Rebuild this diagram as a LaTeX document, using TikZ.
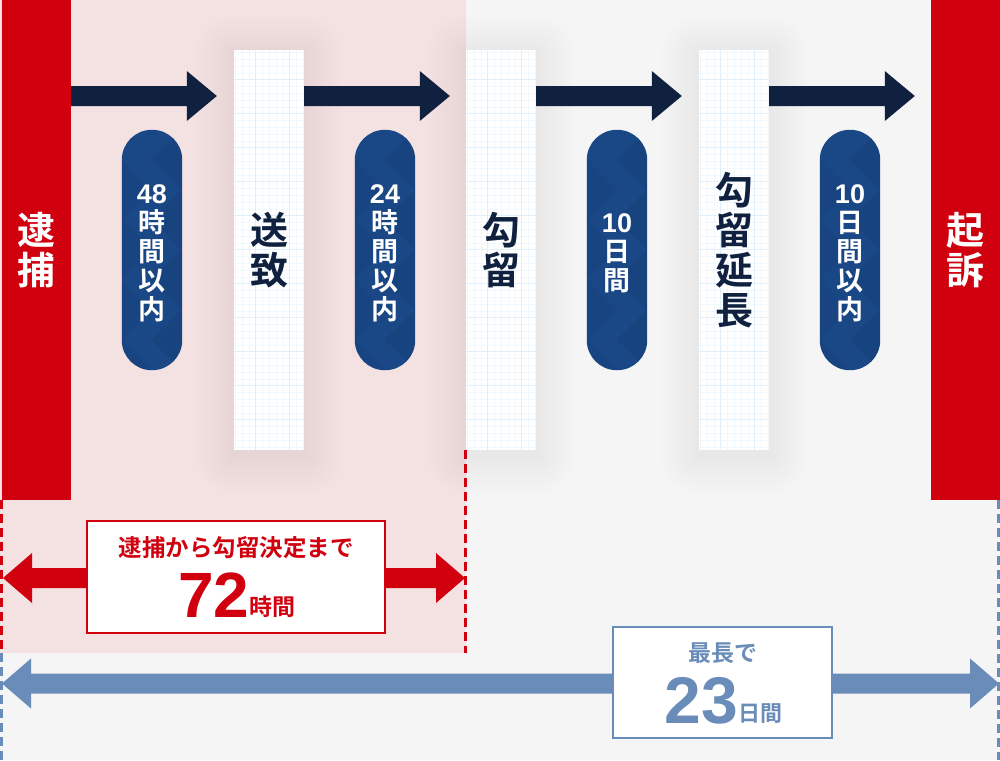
\documentclass[tikz,border=0pt]{standalone}
\usepackage{fontspec}
\newfontfamily\jp{Noto Sans CJK JP}[BoldFont={Noto Sans CJK JP Bold}]
\newfontfamily\num{Liberation Sans}
\usetikzlibrary{calc}
\definecolor{cred}{HTML}{D0000E}
\definecolor{cnavy}{HTML}{0F213F}
\definecolor{cpill}{HTML}{1A4785}
\definecolor{cpilldark}{HTML}{0E3166}
\definecolor{cblue}{HTML}{6A8CB9}
\definecolor{cpink}{HTML}{F4E1E2}
\definecolor{cgray}{HTML}{F5F5F5}
\definecolor{gminor}{HTML}{F1F8FD}
\definecolor{gmajor}{HTML}{E0EFF9}
\pgfdeclarelayer{bg}
\pgfdeclarelayer{shadow}
\pgfdeclarelayer{deco}
\pgfsetlayers{bg,shadow,deco,main}
\newcommand\softshadow[1]{%
  \foreach \rr in {3,6,...,39}
    \fill[black,opacity=0.0045,rounded corners=\rr pt]
      ($(#1.north west)+(-\rr,-\rr+5)$) rectangle ($(#1.south east)+(\rr,\rr+5)$);}
\newcommand\gridfill[1]{%
  \begin{scope}[shift={(#1.north west)}]
    \fill[white] (0,0) rectangle (70,400);
    \clip (0,0) rectangle (70,400);
    \foreach \k in {0,...,15} \draw[gminor,line width=0.8pt] (-12+\k*6.8,0) -- ++(0,400);
    \foreach \k in {0,...,60} \draw[gminor,line width=0.8pt] (0,-4+\k*6.8) -- ++(70,0);
    \foreach \k in {0,1} \draw[gmajor,line width=1pt] (22+\k*34,0) -- ++(0,400);
    \foreach \k in {0,...,11} \draw[gmajor,line width=1pt] (0,30+\k*34) -- ++(70,0);
  \end{scope}}
\newcommand\pillfill[1]{%
  \fill[cpill,rounded corners=30pt] (#1.north west) rectangle (#1.south east);
  \begin{scope}
    \clip[rounded corners=30pt] (#1.north west) rectangle (#1.south east);
    \begin{scope}[shift={(#1.north west)}]
      \foreach \k in {0,2,...,8}
        \fill[cpilldark,opacity=0.18] (60,\k*30) -- (30,\k*30+30) -- (60,\k*30+60) -- cycle;
      \foreach \k in {1,3,...,7}
        \fill[cpilldark,opacity=0.12] (0,\k*30) -- (30,\k*30+30) -- (0,\k*30+60) -- cycle;
    \end{scope}
  \end{scope}}
\newcommand\fatarrow[3]{%
  \fill[#1] ($(#2)+(0,-10)$) -- ($(#3)+(-30,-10)$) -- ($(#3)+(-30,-25)$) -- (#3)
    -- ($(#3)+(-30,25)$) -- ($(#3)+(-30,10)$) -- ($(#2)+(0,10)$) -- cycle;}
\newcommand\dblarrow[3]{%
  \fill[#1] (#2) -- ($(#2)+(29,-25)$) -- ($(#2)+(29,-10)$) -- ($(#3)+(-29,-10)$)
    -- ($(#3)+(-29,-25)$) -- (#3) -- ($(#3)+(-29,25)$) -- ($(#3)+(-29,10)$)
    -- ($(#2)+(29,10)$) -- ($(#2)+(29,25)$) -- cycle;}
\newcommand\pstrut{\rule{0pt}{25pt}}
\begin{document}
\begin{tikzpicture}[x=1pt,y=-1pt,
  barnode/.style={fill=cred,text=white,minimum width=69pt,minimum height=500pt,inner sep=0pt,
    align=center,font=\jp\bfseries\fontsize{38}{40}\selectfont},
  stagebox/.style={minimum width=70pt,minimum height=400pt,inner sep=0pt,align=center,
    text=cnavy,font=\jp\bfseries\fontsize{38}{40}\selectfont},
  pill/.style={minimum width=60pt,minimum height=240pt,inner sep=0pt,text=white,align=center,
    font=\jp\bfseries\fontsize{27}{29}\selectfont},
  reddash/.style={draw=cred,line width=3pt,dash pattern=on 9pt off 5pt},
  bluedash/.style={draw=cblue,line width=3pt,dash pattern=on 9pt off 5pt},
  redbox/.style={draw=cred,fill=white,line width=2pt,minimum width=298pt,minimum height=112pt,inner sep=0pt},
  bluebox/.style={draw=cblue,fill=white,line width=2pt,minimum width=219pt,minimum height=111pt,inner sep=0pt},
  redtxt/.style={text=cred,inner sep=0pt,font=\jp\bfseries},
  bluetxt/.style={text=cblue,inner sep=0pt,font=\jp\bfseries}]
\useasboundingbox (0,0) rectangle (1000,760);
\begin{pgfonlayer}{bg}
  \fill[cgray] (0,0) rectangle (1000,760);
  \fill[cpink] (0,0) rectangle (466,653);
\end{pgfonlayer}
% bars
\node[barnode] (taiho) at (36.5,250) {逮\\捕};
\node[barnode] (kiso) at (965.5,250) {起\\訴};
% stage boxes
\node[stagebox] (sochi) at (269,250) {送\\致};
\node[stagebox] (koryu) at (501,250) {勾\\留};
\node[stagebox] (encho) at (734,250) {勾\\留\\延\\長};
% pills
\node[pill] (p1) at (152,250) {\pstrut{\num 48}\\時\\間\\以\\内};
\node[pill] (p2) at (385,250) {\pstrut{\num 24}\\時\\間\\以\\内};
\node[pill] (p3) at (617,250) {\pstrut{\num 10}\\日\\間};
\node[pill] (p4) at (850,250) {\pstrut{\num 10}\\日\\間\\以\\内};
\begin{pgfonlayer}{shadow}
  \softshadow{sochi}\softshadow{koryu}\softshadow{encho}
\end{pgfonlayer}
\begin{pgfonlayer}{deco}
  \gridfill{sochi}\gridfill{koryu}\gridfill{encho}
  \pillfill{p1}\pillfill{p2}\pillfill{p3}\pillfill{p4}
\end{pgfonlayer}
% top arrows
\coordinate (a1s) at (taiho.east |- 0,96);
\coordinate (a1t) at ($(sochi.west |- 0,96)+(-17,0)$);
\coordinate (a2s) at (sochi.east |- 0,96);
\coordinate (a2t) at ($(koryu.west |- 0,96)+(-16,0)$);
\coordinate (a3s) at (koryu.east |- 0,96);
\coordinate (a3t) at ($(encho.west |- 0,96)+(-17,0)$);
\coordinate (a4s) at (encho.east |- 0,96);
\coordinate (a4t) at ($(kiso.west |- 0,96)+(-16,0)$);
\fatarrow{cnavy}{a1s}{a1t}
\fatarrow{cnavy}{a2s}{a2t}
\fatarrow{cnavy}{a3s}{a3t}
\fatarrow{cnavy}{a4s}{a4t}
% dashed guides
\coordinate (dl0) at (1.5,500);
\coordinate (dl1) at (1.5,653);
\coordinate (dl2) at (1.5,760);
\coordinate (dr0) at (465,450);
\coordinate (dr1) at (465,653);
\coordinate (dk0) at (998.5,500);
\coordinate (dk1) at (998.5,760);
\draw[reddash] (dl0) -- (dl1);
\draw[bluedash] (dl1) -- (dl2);
\draw[reddash] (dr0) -- (dr1);
\draw[bluedash] (dk0) -- (dk1);
% 72 hours
\coordinate (rl) at (3,578);
\coordinate (rr) at (465,578);
\dblarrow{cred}{rl}{rr}
\node[redbox] (rbox) at (236,577) {};
\node[redtxt,anchor=base] (rt1) at (236,556) {\fontsize{23.5}{24}\selectfont 逮捕から勾留決定まで};
\node[redtxt,anchor=base] (rt2) at (237,617) {{\num\fontsize{64}{64}\selectfont 72}{\fontsize{23}{23}\selectfont\raisebox{1.5pt}{時間}}};
% 23 days
\coordinate (bl) at (2,683.5);
\coordinate (br) at (999,683.5);
\dblarrow{cblue}{bl}{br}
\node[bluebox] (bbox) at (722.5,682.5) {};
\node[bluetxt,anchor=base] (bt1) at (723,661) {\fontsize{23}{24}\selectfont 最長で};
\node[bluetxt,anchor=base] (bt2) at (723.5,723) {{\num\fontsize{66}{66}\selectfont 23}{\fontsize{22}{22}\selectfont\raisebox{1.5pt}{日間}}};
\end{tikzpicture}
\end{document}
